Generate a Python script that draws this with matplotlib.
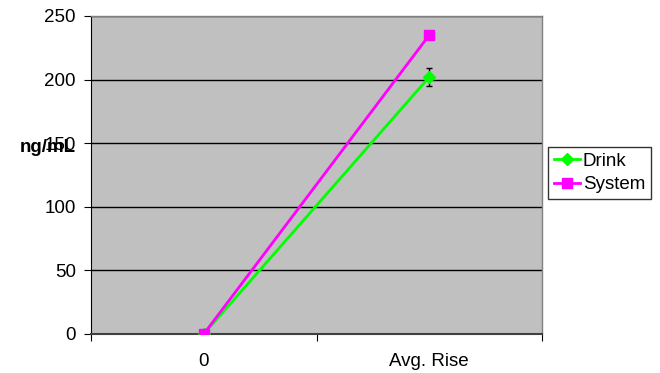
import matplotlib
matplotlib.use("Agg")
import matplotlib.pyplot as plt

categories = ["0", "Avg. Rise"]
drink = [0, 202]
drink_err = [0, 7]
system = [0, 235]
yticks = [0, 50, 100, 150, 200, 250]

plt.rcParams['font.family'] = ['Liberation Sans', 'DejaVu Sans']

fig = plt.figure(figsize=(6.6, 3.73), dpi=100)
W, H = 660, 373
L, R, T, B = 91, 542, 16, 334
ax = fig.add_axes([L / W, 1 - B / H, (R - L) / W, (B - T) / H])
ax.set_facecolor('#C0C0C0')

x = list(range(len(categories)))
ax.errorbar(x, drink, yerr=drink_err, fmt='none', ecolor='black', elinewidth=1,
            capsize=2.5, zorder=3)
ax.plot(x, drink, color='#00FF00', marker='D', markersize=6, lw=2, label='Drink', zorder=4)
ax.plot(x, system, color='#FF00FF', marker='s', markersize=7, lw=2, label='System', zorder=5)

ax.set_xlim(-0.5, 1.5)
ax.set_ylim(0, 250)
ax.set_yticks(yticks)
ax.set_yticklabels([str(v) for v in yticks], fontsize=13.5)
ax.set_xticks([-0.5, 0.5, 1.5])
ax.set_xticklabels([])
ax.set_xticks(x, minor=True)
ax.set_xticklabels(categories, minor=True, fontsize=13.5)
ax.tick_params(axis='x', which='minor', length=0, pad=14)
ax.tick_params(axis='x', which='major', length=5, direction='out', color='black')
ax.tick_params(axis='y', length=5, direction='out', color='black', pad=6)
ax.yaxis.grid(True, color='black', lw=1)
ax.set_axisbelow(True)

for s in ['top', 'right']:
    ax.spines[s].set_color('#808080')
    ax.spines[s].set_linewidth(1)
ax.spines['left'].set_color('black')
ax.spines['bottom'].set_color('#404040')
ax.spines['bottom'].set_linewidth(1.5)

fig.text(48 / W, 1 - 147 / H, 'ng/mL', fontsize=13.5, fontweight='bold', ha='center', va='center')

leg = ax.legend(loc='upper left', bbox_to_anchor=(548 / W, 1 - 147 / H),
                bbox_transform=fig.transFigure, frameon=True, fancybox=False,
                edgecolor='black', fontsize=13.5, handlelength=1.4, handletextpad=0.15,
                borderpad=0.3, labelspacing=0.35, borderaxespad=0)
leg.get_frame().set_linewidth(1)

fig.savefig('out.png', dpi=100)
